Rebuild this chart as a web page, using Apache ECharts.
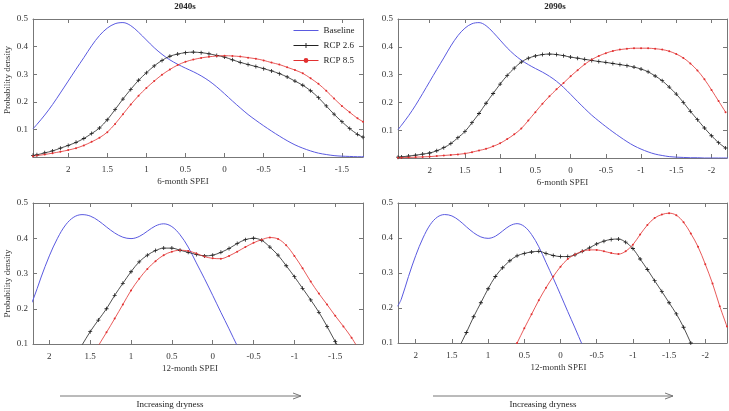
<!DOCTYPE html>
<html>
<head>
<meta charset="UTF-8">
<title>SPEI density</title>
<script src="https://cdn.jsdelivr.net/npm/echarts@6.0.0/dist/echarts.min.js"></script>
<style>
  html, body { margin: 0; padding: 0; background: #fff; }
  #chart { width: 729px; height: 411px; }
</style>
</head>
<body>
<div id="chart"></div>
<script>
// tick labels
const ticks6m2040 = [2, 1.5, 1, 0.5, 0, -0.5, -1, -1.5];
const ticks6m2090 = [2, 1.5, 1, 0.5, 0, -0.5, -1, -1.5, -2];
const ticks12m2040 = [2, 1.5, 1, 0.5, 0, -0.5, -1, -1.5];
const ticks12m2090 = [2, 1.5, 1, 0.5, 0, -0.5, -1, -1.5, -2];

// [SPEI, density]
const baseline6m = [[2.45,0.102],[2.4,0.118],[2.3,0.152],[2.2,0.19],[2.1,0.232],[2.0,0.275],[1.9,0.318],[1.8,0.36],[1.7,0.403],[1.6,0.44],[1.5,0.467],[1.4,0.483],[1.3,0.487],[1.2,0.476],[1.1,0.452],[1.0,0.424],[0.9,0.396],[0.8,0.372],[0.7,0.352],[0.6,0.336],[0.5,0.322],[0.4,0.309],[0.3,0.294],[0.2,0.276],[0.1,0.254],[0.0,0.229],[-0.1,0.203],[-0.2,0.178],[-0.3,0.154],[-0.4,0.133],[-0.5,0.113],[-0.6,0.094],[-0.7,0.076],[-0.8,0.059],[-0.9,0.044],[-1.0,0.032],[-1.1,0.022],[-1.2,0.014],[-1.3,0.009],[-1.4,0.005],[-1.5,0.003],[-1.6,0.002],[-1.7,0.001],[-1.8,0.001],[-1.9,0],[-2.0,0],[-2.1,0],[-2.25,0]];

const rcp26_6m2040 = [[2.45,0.006],[2.4,0.008],[2.3,0.015],[2.2,0.022],[2.1,0.032],[2.0,0.042],[1.9,0.053],[1.8,0.067],[1.7,0.085],[1.6,0.105],[1.5,0.135],[1.4,0.172],[1.3,0.21],[1.2,0.245],[1.1,0.278],[1.0,0.305],[0.9,0.33],[0.8,0.35],[0.7,0.365],[0.6,0.373],[0.5,0.378],[0.4,0.38],[0.3,0.378],[0.2,0.374],[0.1,0.368],[0.0,0.362],[-0.1,0.352],[-0.2,0.343],[-0.3,0.335],[-0.4,0.328],[-0.5,0.32],[-0.6,0.312],[-0.7,0.302],[-0.8,0.29],[-0.9,0.275],[-1.0,0.26],[-1.1,0.24],[-1.2,0.215],[-1.3,0.185],[-1.4,0.155],[-1.5,0.128],[-1.6,0.103],[-1.7,0.082],[-1.77,0.072]];

const rcp85_6m2040 = [[2.45,0.003],[2.4,0.005],[2.3,0.009],[2.2,0.014],[2.1,0.019],[2.0,0.025],[1.9,0.032],[1.8,0.042],[1.7,0.055],[1.6,0.07],[1.5,0.09],[1.4,0.12],[1.3,0.155],[1.2,0.19],[1.1,0.222],[1.0,0.25],[0.9,0.275],[0.8,0.298],[0.7,0.317],[0.6,0.333],[0.5,0.345],[0.4,0.353],[0.3,0.359],[0.2,0.363],[0.1,0.366],[0.0,0.367],[-0.1,0.366],[-0.2,0.364],[-0.3,0.36],[-0.4,0.356],[-0.5,0.35],[-0.6,0.342],[-0.7,0.335],[-0.8,0.325],[-0.9,0.315],[-1.0,0.303],[-1.1,0.285],[-1.2,0.265],[-1.3,0.24],[-1.4,0.212],[-1.5,0.185],[-1.6,0.162],[-1.7,0.14],[-1.77,0.128]];

const rcp26_6m2090 = [[2.45,0.003],[2.4,0.004],[2.3,0.007],[2.2,0.01],[2.1,0.014],[2.0,0.018],[1.9,0.026],[1.8,0.037],[1.7,0.052],[1.6,0.073],[1.5,0.095],[1.4,0.127],[1.3,0.16],[1.2,0.197],[1.1,0.232],[1.0,0.266],[0.9,0.297],[0.8,0.323],[0.7,0.345],[0.6,0.359],[0.5,0.367],[0.4,0.372],[0.3,0.374],[0.2,0.372],[0.1,0.368],[0.0,0.363],[-0.1,0.359],[-0.2,0.355],[-0.3,0.351],[-0.4,0.347],[-0.5,0.344],[-0.6,0.34],[-0.7,0.336],[-0.8,0.332],[-0.9,0.327],[-1.0,0.32],[-1.1,0.31],[-1.2,0.295],[-1.3,0.278],[-1.4,0.255],[-1.5,0.23],[-1.6,0.2],[-1.7,0.168],[-1.8,0.138],[-1.9,0.108],[-2.0,0.08],[-2.1,0.055],[-2.2,0.036]];

const rcp85_6m2090 = [[2.45,0.001],[2.4,0.001],[2.3,0.002],[2.2,0.003],[2.1,0.004],[2.0,0.005],[1.9,0.007],[1.8,0.009],[1.7,0.011],[1.6,0.013],[1.5,0.016],[1.4,0.021],[1.3,0.027],[1.2,0.033],[1.1,0.042],[1.0,0.053],[0.9,0.068],[0.8,0.085],[0.7,0.106],[0.6,0.135],[0.5,0.165],[0.4,0.195],[0.3,0.222],[0.2,0.247],[0.1,0.27],[0.0,0.294],[-0.1,0.316],[-0.2,0.337],[-0.3,0.354],[-0.4,0.367],[-0.5,0.377],[-0.6,0.385],[-0.7,0.39],[-0.8,0.393],[-0.9,0.395],[-1.0,0.395],[-1.1,0.395],[-1.2,0.393],[-1.3,0.39],[-1.4,0.384],[-1.5,0.374],[-1.6,0.36],[-1.7,0.34],[-1.8,0.315],[-1.9,0.283],[-2.0,0.245],[-2.1,0.205],[-2.2,0.165]];

const baseline12m = [[2.25,0.205],[2.2,0.225],[2.1,0.29],[2.0,0.35],[1.9,0.4],[1.8,0.438],[1.7,0.46],[1.6,0.467],[1.5,0.463],[1.4,0.45],[1.3,0.432],[1.2,0.415],[1.1,0.403],[1.0,0.399],[0.9,0.405],[0.8,0.42],[0.7,0.435],[0.6,0.441],[0.5,0.433],[0.4,0.41],[0.3,0.375],[0.2,0.33],[0.1,0.285],[0.0,0.238],[-0.1,0.19],[-0.2,0.143],[-0.3,0.095],[-0.4,0.05]];

const rcp26_12m2040 = [[1.7,0.06],[1.6,0.097],[1.5,0.135],[1.4,0.168],[1.3,0.2],[1.2,0.238],[1.1,0.272],[1.0,0.305],[0.9,0.333],[0.8,0.352],[0.7,0.365],[0.6,0.372],[0.5,0.372],[0.4,0.366],[0.3,0.36],[0.2,0.354],[0.1,0.35],[0.0,0.352],[-0.1,0.36],[-0.2,0.371],[-0.3,0.385],[-0.4,0.396],[-0.5,0.4],[-0.6,0.394],[-0.7,0.375],[-0.8,0.352],[-0.9,0.322],[-1.0,0.291],[-1.1,0.258],[-1.2,0.225],[-1.3,0.19],[-1.4,0.15],[-1.5,0.107],[-1.6,0.07],[-1.7,0.04]];

const rcp85_12m2040 = [[1.5,0.055],[1.4,0.095],[1.3,0.133],[1.2,0.172],[1.1,0.212],[1.0,0.252],[0.9,0.285],[0.8,0.313],[0.7,0.335],[0.6,0.352],[0.5,0.362],[0.4,0.366],[0.3,0.364],[0.2,0.357],[0.1,0.348],[0.0,0.343],[-0.1,0.342],[-0.2,0.35],[-0.3,0.362],[-0.4,0.375],[-0.5,0.387],[-0.6,0.396],[-0.7,0.402],[-0.8,0.398],[-0.9,0.38],[-1.0,0.35],[-1.1,0.315],[-1.2,0.277],[-1.3,0.243],[-1.4,0.212],[-1.5,0.18],[-1.6,0.15],[-1.7,0.118],[-1.8,0.08]];

const rcp26_12m2090 = [[1.5,0.045],[1.4,0.088],[1.3,0.13],[1.2,0.175],[1.1,0.215],[1.0,0.255],[0.9,0.29],[0.8,0.315],[0.7,0.335],[0.6,0.349],[0.5,0.356],[0.4,0.36],[0.3,0.362],[0.2,0.356],[0.1,0.35],[0.0,0.347],[-0.1,0.347],[-0.2,0.352],[-0.3,0.362],[-0.4,0.372],[-0.5,0.383],[-0.6,0.391],[-0.7,0.396],[-0.8,0.397],[-0.9,0.388],[-1.0,0.37],[-1.1,0.34],[-1.2,0.31],[-1.3,0.278],[-1.4,0.247],[-1.5,0.215],[-1.6,0.183],[-1.7,0.145],[-1.8,0.1],[-1.9,0.06]];

const rcp85_12m2090 = [[0.7,0.06],[0.6,0.1],[0.5,0.142],[0.4,0.182],[0.3,0.222],[0.2,0.258],[0.1,0.29],[0.0,0.318],[-0.1,0.34],[-0.2,0.353],[-0.3,0.362],[-0.4,0.366],[-0.5,0.366],[-0.6,0.362],[-0.7,0.357],[-0.8,0.354],[-0.9,0.362],[-1.0,0.381],[-1.1,0.41],[-1.2,0.437],[-1.3,0.457],[-1.4,0.467],[-1.5,0.471],[-1.6,0.465],[-1.7,0.445],[-1.8,0.413],[-1.9,0.375],[-2.0,0.325],[-2.1,0.27],[-2.2,0.205],[-2.3,0.147]];

const FONT = "Liberation Serif";
const FRAME = "#777";
const BLUE = "#5a5ae0";
const BLACK = "#222";
const RED = "#e23030";
const PLUS = "path://M4,0H6V4H10V6H6V10H4V6H0V4H4Z";

const chart = echarts.init(document.getElementById("chart"));

const grids = [
    { left: 33, top: 19, width: 330, height: 138 },
    { left: 398, top: 19, width: 329, height: 139 },
    { left: 33, top: 203, width: 330, height: 141 },
    { left: 398, top: 203, width: 329, height: 140 }
];

function xAxes(gi, min, max, tickVals, name, shift) {
    const common = {
        type: "value", gridIndex: gi, min: min, max: max, inverse: true,
        axisLine: { show: true, onZero: false, lineStyle: { color: FRAME } },
        splitLine: { show: false }
    };
    return [
        Object.assign({}, common, {
            position: "bottom",
            name: name, nameLocation: "middle", nameGap: 20,
            nameTextStyle: { fontFamily: FONT, fontSize: 9, color: "#333", padding: [0, shift * 2, 0, 0] },
            axisTick: { inside: true, length: 4, customValues: tickVals, lineStyle: { color: FRAME } },
            axisLabel: { customValues: tickVals, fontFamily: FONT, fontSize: 9, color: "#333", margin: 8 }
        }),
        Object.assign({}, common, {
            position: "top",
            axisTick: { inside: true, length: 4, customValues: tickVals, lineStyle: { color: FRAME } },
            axisLabel: { show: false }
        })
    ];
}

// namePad moves the rotated y-axis name along the axis
function yAxes(gi, min, namePad) {
    const common = {
        type: "value", gridIndex: gi, min: min, max: 0.5, interval: 0.1,
        axisLine: { show: true, onZero: false, lineStyle: { color: FRAME } },
        axisTick: { inside: true, length: 4, lineStyle: { color: FRAME } },
        splitLine: { show: false }
    };
    const left = Object.assign({}, common, {
        position: "left",
        axisLabel: { fontFamily: FONT, fontSize: 9, color: "#333", margin: 5, showMinLabel: min > 0 }
    });
    if (namePad) {
        Object.assign(left, {
            name: "Probability density", nameLocation: "middle", nameGap: 21,
            nameTextStyle: { fontFamily: FONT, fontSize: 9, color: "#333", padding: namePad }
        });
    }
    const right = Object.assign({}, common, { position: "right", axisLabel: { show: false } });
    return [left, right];
}

const xAxis = [].concat(
    xAxes(0, -1.77, 2.45, ticks6m2040, "6-month SPEI", 15),
    xAxes(1, -2.22, 2.45, ticks6m2090, "6-month SPEI", 0),
    xAxes(2, -1.84, 2.2, ticks12m2040, "12-month SPEI", 8),
    xAxes(3, -2.3, 2.245, ticks12m2090, "12-month SPEI", 4)
);
const yAxis = [].concat(
    yAxes(0, 0, [0, 0, 0, 16]), yAxes(1, 0, null),
    yAxes(2, 0.1, [0, 20, 0, 0]), yAxes(3, 0.1, null)
);

function panelSeries(gi, base, r26, r85) {
    const xi = gi * 2, yi = gi * 2;
    return [
        {
            name: "Baseline", type: "line", xAxisIndex: xi, yAxisIndex: yi, data: base,
            smooth: 0.35, showSymbol: false, symbol: "none",
            lineStyle: { color: BLUE, width: 1 }, itemStyle: { color: BLUE }
        },
        {
            name: "RCP 2.6", type: "line", xAxisIndex: xi, yAxisIndex: yi, data: r26,
            smooth: 0.35, symbol: PLUS, symbolSize: 4, showSymbol: true,
            lineStyle: { color: BLACK, width: 0.8 }, itemStyle: { color: BLACK }
        },
        {
            name: "RCP 8.5", type: "line", xAxisIndex: xi, yAxisIndex: yi, data: r85,
            smooth: 0.35, symbol: "circle", symbolSize: 2, showSymbol: true,
            lineStyle: { color: RED, width: 0.8 }, itemStyle: { color: RED }
        }
    ];
}

const series = [].concat(
    panelSeries(0, baseline6m, rcp26_6m2040, rcp85_6m2040),
    panelSeries(1, baseline6m, rcp26_6m2090, rcp85_6m2090),
    panelSeries(2, baseline12m, rcp26_12m2040, rcp85_12m2040),
    panelSeries(3, baseline12m, rcp26_12m2090, rcp85_12m2090)
);

function arrow(x1, x2, y) {
    return [
        { type: "line", shape: { x1: x1, y1: y, x2: x2, y2: y }, style: { stroke: FRAME, lineWidth: 1 } },
        { type: "polyline", shape: { points: [[x2 - 8, y - 3], [x2, y], [x2 - 8, y + 3]] }, style: { stroke: FRAME, fill: null, lineWidth: 1 } }
    ];
}

function label(x, y, text, bold) {
    return {
        type: "text", x: x, y: y,
        style: { text: text, fontFamily: FONT, fontSize: 9, fontWeight: bold ? "bold" : "normal", fill: "#222", align: "center", verticalAlign: "middle" }
    };
}

chart.setOption({
    animation: false,
    grid: grids,
    xAxis: xAxis,
    yAxis: yAxis,
    series: series,
    legend: {
        data: [
            { name: "Baseline", icon: "path://M0,0H25V1H0Z" },
            { name: "RCP 2.6" },
            { name: "RCP 8.5" }
        ],
        orient: "vertical", left: 288, top: 21,
        itemWidth: 25, itemHeight: 6, itemGap: 6,
        lineStyle: { width: 1 },
        textStyle: { fontFamily: FONT, fontSize: 9, color: "#222" }
    },
    graphic: [].concat(
        [label(185, 7, "2040s", true), label(555, 7, "2090s", true)],
        arrow(60, 301, 396), arrow(433, 673, 396),
        [label(170, 405, "Increasing dryness"), label(543, 405, "Increasing dryness")]
    )
});
</script>
</body>
</html>
